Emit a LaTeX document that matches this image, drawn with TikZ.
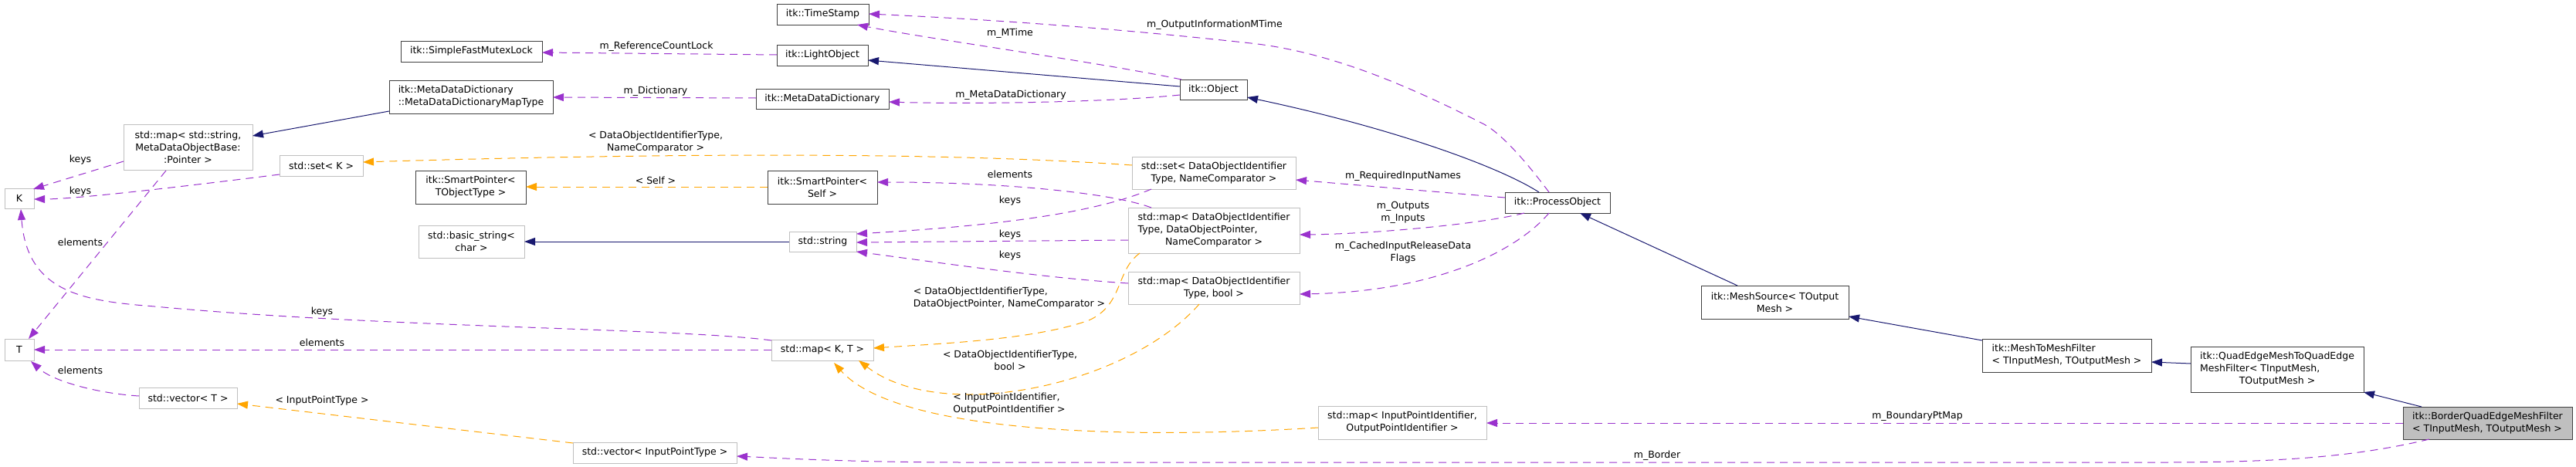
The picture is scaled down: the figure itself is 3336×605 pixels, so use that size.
\documentclass[tikz,border=0pt]{standalone}
\usepackage{fontspec}
\setmainfont{DejaVu Sans}
\usetikzlibrary{arrows.meta,calc}
\definecolor{inhc}{HTML}{191970}
\definecolor{usec}{HTML}{9A32CD}
\definecolor{tmplc}{HTML}{FFA500}
\definecolor{greyb}{HTML}{BFBFBF}
\definecolor{darkb}{HTML}{404040}
\newcommand\mybox[7]{\node[#1, minimum width={#5-#3}, minimum height={#6-#4}] (#2) at ({(#3+#5)/2},{(#4+#6)/2}) {#7};}
\begin{document}
\begin{tikzpicture}[x=1pt,y=-1pt,
 base/.style={inner sep=0pt, outer sep=0pt, line width=1pt, font=\fontsize{12.5}{16}\selectfont},
 docboxt/.style={base, draw=darkb, fill=white},
 docbox/.style={docboxt, align=center},
 docboxl/.style={docboxt, align=left},
 extboxt/.style={base, draw=greyb, fill=white},
 extbox/.style={extboxt, align=center},
 curbox/.style={base, draw=darkb, fill=greyb, align=left},
 lbl/.style={font=\fontsize{12.5}{16}\selectfont, inner sep=0pt, align=center},
 lbll/.style={lbl, align=left},
 inhedge/.style={color=inhc, line width=1pt, -{Triangle[length=14pt,width=10pt]}},
 useedge/.style={color=usec, line width=1pt, dash pattern=on 10pt off 7pt, -{Triangle[length=14pt,width=10pt]}},
 tmpledge/.style={color=tmplc, line width=1pt, dash pattern=on 10pt off 7pt, -{Triangle[length=14pt,width=10pt]}},
]
\useasboundingbox (0,0) rectangle (3336,605);

% nodes
\mybox{docbox}{ts}{1006}{5}{1125}{32}{itk::TimeStamp}
\mybox{docbox}{sfml}{519}{53}{702}{80}{itk::SimpleFastMutexLock}
\mybox{docbox}{lo}{1006}{58}{1124}{85}{itk::LightObject}
\mybox{docboxl}{mdt}{504}{104}{716}{147}{itk::MetaDataDictionary\\::MetaDataDictionaryMapType}
\mybox{docbox}{mdd}{979}{115}{1151}{141}{itk::MetaDataDictionary}
\mybox{docbox}{obj}{1528}{103}{1615}{129}{itk::Object}
\mybox{extbox}{mstr}{160}{161}{327}{220}{std::map< std::string,\\MetaDataObjectBase:\\:Pointer >}
\mybox{extbox}{setk}{362}{201}{470}{228}{std::set< K >}
\mybox{extbox}{K}{6}{244}{44}{270}{K}
\mybox{docbox}{spt}{538}{221}{681}{264}{itk::SmartPointer<\\TObjectType >}
\mybox{docbox}{sps}{994}{221}{1136}{264}{itk::SmartPointer<\\Self >}
\mybox{extbox}{setdo}{1466}{203}{1678}{245}{std::set< DataObjectIdentifier\\Type, NameComparator >}
\mybox{extbox}{bstr}{542}{292}{679}{334}{std::basic\_string<\\char >}
\mybox{extbox}{str}{1022}{300}{1109}{326}{std::string}
\mybox{extboxt}{mapdo}{1461}{269}{1683}{328}{\begin{tabular}{@{}l@{}}std::map< DataObjectIdentifier\\Type, DataObjectPointer,\\\multicolumn{1}{@{}c@{}}{NameComparator >}\end{tabular}}
\mybox{extbox}{mapb}{1461}{352}{1683}{394}{std::map< DataObjectIdentifier\\Type, bool >}
\mybox{docbox}{po}{1949}{249}{2085}{276}{itk::ProcessObject}
\mybox{docbox}{ms}{2203}{370}{2394}{413}{itk::MeshSource< TOutput\\Mesh >}
\mybox{extbox}{T}{6}{439}{44}{467}{T}
\mybox{extbox}{mkt}{999}{440}{1131}{467}{std::map< K, T >}
\mybox{docboxl}{m2m}{2567}{439}{2786}{482}{itk::MeshToMeshFilter\\< TInputMesh, TOutputMesh >}
\mybox{docboxt}{quad}{2837}{449}{3061}{508}{\begin{tabular}{@{}l@{}}itk::QuadEdgeMeshToQuadEdge\\MeshFilter< TInputMesh,\\\multicolumn{1}{@{}c@{}}{TOutputMesh >}\end{tabular}}
\mybox{curbox}{bord}{3112}{527}{3331}{569}{itk::BorderQuadEdgeMeshFilter\\< TInputMesh, TOutputMesh >}
\mybox{extbox}{mipi}{1707}{526}{1925}{569}{std::map< InputPointIdentifier,\\OutputPointIdentifier >}
\mybox{extbox}{vT}{180}{502}{307}{529}{std::vector< T >}
\mybox{extbox}{vipt}{742}{573}{954}{600}{std::vector< InputPointType >}

% inheritance
\draw[inhedge] ($(obj.north west)+(0,9)$) -- ($(lo.north west)+(118,20)$);
\draw[inhedge] ($(po.north west)+(44,0)$) .. controls (1940,215) and (1800,165) .. ($(obj.north west)+(87,23)$);
\draw[inhedge] ($(ms.north west)+(47,0)$) -- ($(po.north west)+(97,27)$);
\draw[inhedge] ($(m2m.north west)+(0,2)$) -- ($(ms.north west)+(191,40)$);
\draw[inhedge] ($(quad.north west)+(0,22)$) -- ($(m2m.north west)+(219,30)$);
\draw[inhedge] ($(bord.north west)+(24,0)$) -- ($(quad.north west)+(224,59)$);
\draw[inhedge] ($(mdt.north west)+(0,40)$) -- ($(mstr.north west)+(167,15)$);
\draw[inhedge] ($(str.north west)+(0,13)$) -- ($(bstr.north west)+(137,21)$);

% usage
\draw[useedge] ($(lo.north west)+(0,13)$) -- ($(sfml.north west)+(183,15)$);
\node[lbl] (l1) at (850,60) {m\_ReferenceCountLock};
\draw[useedge] ($(obj.north west)+(2,0)$) .. controls (1420,80) and (1200,50) .. ($(ts.north west)+(104,27)$);
\node[lbl] (l2) at (1308,43) {m\_MTime};
\draw[useedge] ($(obj.north west)+(0,20)$) .. controls (1430,133) and (1250,135) .. ($(mdd.north west)+(172,17)$);
\node[lbl] (l3) at (1309,123) {m\_MetaDataDictionary};
\draw[useedge] ($(mdd.north west)+(0,12)$) -- ($(mdt.north west)+(212,22)$);
\node[lbl] (l4) at (849,118) {m\_Dictionary};
\draw[useedge] ($(po.north west)+(57,0)$) .. controls (1991,229) and (1950,175) .. (1920,160) .. controls (1820,109) and (1720,67) .. (1620,56) .. controls (1455,38) and (1300,26) .. ($(ts.north west)+(119,13)$);
\node[lbl] (l5) at (1573,32) {m\_OutputInformationMTime};
\draw[useedge] ($(po.north west)+(0,7)$) -- ($(setdo.north west)+(212,30)$);
\node[lbl] (l6) at (1817,228) {m\_RequiredInputNames};
\draw[useedge] ($(po.north west)+(25,27)$) .. controls (1920,290) and (1780,303) .. ($(mapdo.north west)+(222,35)$);
\node[lbl] (l7) at (1817,275) {m\_Outputs\\m\_Inputs};
\draw[useedge] ($(po.north west)+(57,27)$) .. controls (1960,330) and (1850,378) .. ($(mapb.north west)+(222,29)$);
\node[lbl] (l8) at (1817,327) {m\_CachedInputReleaseData\\Flags};
\draw[useedge] ($(mstr.north west)+(0,48)$) -- ($(K.north west)+(37,1)$);
\node[lbl] (l9) at (104,207) {keys};
\draw[useedge] ($(setk.north west)+(0,25)$) .. controls (250,240) and (100,258) .. ($(K.north west)+(38,14)$);
\node[lbl] (l10) at (104,248) {keys};
\draw[useedge] ($(mstr.north west)+(55,60)$) -- ($(T.north west)+(31,0)$);
\node[lbl] (l11) at (104,314) {elements};
\draw[useedge] ($(mkt.north west)+(0,1)$) .. controls (880,425) and (500,425) .. (200,397) .. controls (110,390) and (35,380) .. ($(K.north west)+(21,27)$);
\node[lbl] (l12) at (417,404) {keys};
\draw[useedge] ($(mkt.north west)+(0,13)$) -- ($(T.north west)+(38,14)$);
\node[lbl] (l13) at (417,444) {elements};
\draw[useedge] ($(vT.north west)+(0,11)$) .. controls (130,510) and (70,495) .. ($(T.north west)+(34,29)$);
\node[lbl] (l14) at (104,480) {elements};
\draw[useedge] ($(mapdo.north west)+(30,0)$) .. controls (1440,250) and (1300,236) .. ($(sps.north west)+(142,15)$);
\node[lbl] (l15) at (1308,226) {elements};
\draw[useedge] ($(setdo.north west)+(25,42)$) .. controls (1420,275) and (1300,292) .. ($(str.north west)+(87,3)$);
\node[lbl] (l16) at (1308,260) {keys};
\draw[useedge] ($(mapdo.north west)+(0,42)$) -- ($(str.north west)+(87,14)$);
\node[lbl] (l17) at (1308,304) {keys};
\draw[useedge] ($(mapb.north west)+(0,15)$) .. controls (1350,360) and (1200,338) .. ($(str.north west)+(87,26)$);
\node[lbl] (l18) at (1308,331) {keys};
\draw[useedge] ($(bord.north west)+(0,21)$) -- ($(mipi.north west)+(218,22)$);
\node[lbl] (l19) at (2483,539) {m\_BoundaryPtMap};
\draw[useedge] ($(bord.north west)+(34,42)$) .. controls (3050,592) and (2950,599) .. (2800,599) -- (1250,599) .. controls (1100,599) and (1000,593) .. ($(vipt.north west)+(212,18)$);
\node[lbl] (l20) at (2146,590) {m\_Border};

% template instances
\draw[tmpledge] ($(sps.north west)+(0,21)$) -- ($(spt.north west)+(143,21)$);
\node[lbl] (l21) at (849,234) {< Self >};
\draw[tmpledge] ($(setdo.north west)+(0,11)$) .. controls (1200,195) and (800,200) .. ($(setk.north west)+(108,9)$);
\node[lbl] (l22) at (849,184) {< DataObjectIdentifierType,\\NameComparator >};
\draw[tmpledge] ($(mapdo.north west)+(15,59)$) .. controls (1445,350) and (1455,395) .. (1410,415) .. controls (1340,440) and (1220,445) .. ($(mkt.north west)+(132,11)$);
\node[lbll] (l23) at (1307,386) {< DataObjectIdentifierType,\\DataObjectPointer, NameComparator >};
\draw[tmpledge] ($(mapb.north west)+(92,42)$) .. controls (1460,500) and (1220,550) .. ($(mkt.north west)+(113,27)$);
\node[lbl] (l24) at (1308,467) {< DataObjectIdentifierType,\\bool >};
\draw[tmpledge] ($(mipi.north west)+(0,28)$) .. controls (1450,570) and (1160,560) .. ($(mkt.north west)+(81,30)$);
\node[lbll] (l25) at (1307,523) {< InputPointIdentifier,\\OutputPointIdentifier >};
\draw[tmpledge] ($(vipt.north west)+(0,1)$) -- ($(vT.north west)+(127,21)$);
\node[lbl] (l26) at (417,519) {< InputPointType >};
\end{tikzpicture}
\end{document}
